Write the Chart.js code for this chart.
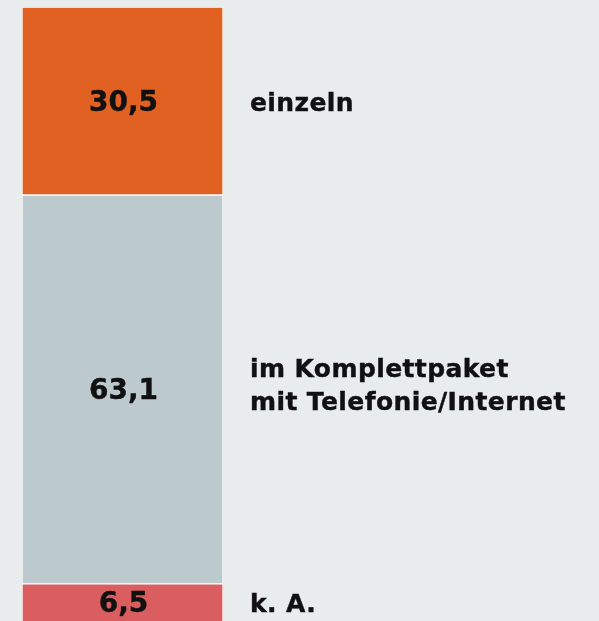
<!DOCTYPE html>
<html>
<head>
<meta charset="utf-8">
<script src="https://cdn.jsdelivr.net/npm/chart.js@4"></script>
<style>
  html, body { margin: 0; padding: 0; background: #e9eced; overflow: hidden; }
  #wrap { position: relative; width: 599px; height: 624px; }
</style>
</head>
<body>
<div id="wrap"><canvas id="c" width="599" height="624"></canvas></div>
<script>
const categories = [""];
const seriesNames = ["einzeln", "im Komplettpaket\nmit Telefonie/Internet", "k. A."];
const seriesValues = [30.5, 63.1, 6.5];
const valueLabels = ["30,5", "63,1", "6,5"];
const colors = ["#e06121", "#bccacd", "#da5e60"];

const FONT = "'DejaVu Sans', Verdana, sans-serif";
const VISIBLE_H = 621;

const labelPlugin = {
  id: 'segLabels',
  afterDatasetsDraw(chart) {
    const ctx = chart.ctx;
    ctx.save();
    ctx.fillStyle = '#111';
    ctx.strokeStyle = '#111';
    ctx.lineWidth = 0.4;
    ctx.textBaseline = 'alphabetic';
    chart.data.datasets.forEach((ds, i) => {
      const el = chart.getDatasetMeta(i).data[0];
      const top = Math.min(el.y, el.base), bot = Math.min(Math.max(el.y, el.base), VISIBLE_H);
      const cy = (top + bot) / 2;
      ctx.font = "bold 28px " + FONT;
      ctx.letterSpacing = "0px";
      ctx.textAlign = 'center';
      ctx.fillText(valueLabels[i], el.x + 1, cy + 10);
      ctx.strokeText(valueLabels[i], el.x + 1, cy + 10);
      const lines = seriesNames[i].split("\n");
      ctx.font = "bold 25px " + FONT;
      ctx.letterSpacing = "0.4px";
      ctx.textAlign = 'left';
      const lh = 33;
      const x0 = el.x + el.width / 2 + 27;
      const shift = lines.length > 1 ? -6 : 0;
      lines.forEach((ln, k) => {
        const y = cy + 10 + shift + (k - (lines.length - 1) / 2) * lh;
        ctx.fillText(ln, x0, y);
        ctx.strokeText(ln, x0, y);
      });
    });
    ctx.restore();
  }
};

new Chart(document.getElementById('c'), {
  type: 'bar',
  data: {
    labels: categories,
    datasets: seriesValues.map((v, i) => ({
      label: seriesNames[i],
      data: [v],
      backgroundColor: colors[i],
      borderColor: '#ffffff',
      borderWidth: 1,
      borderSkipped: false,
      barPercentage: 1,
      categoryPercentage: 1
    }))
  },
  options: {
    responsive: false,
    animation: false,
    layout: { padding: { left: 22, right: 376, top: 7, bottom: 0 } },
    plugins: { legend: { display: false }, tooltip: { enabled: false } },
    scales: {
      x: { stacked: true, display: false },
      y: { stacked: true, display: false, min: 0, max: 100.1, reverse: true }
    }
  },
  plugins: [labelPlugin]
});
</script>
</body>
</html>
